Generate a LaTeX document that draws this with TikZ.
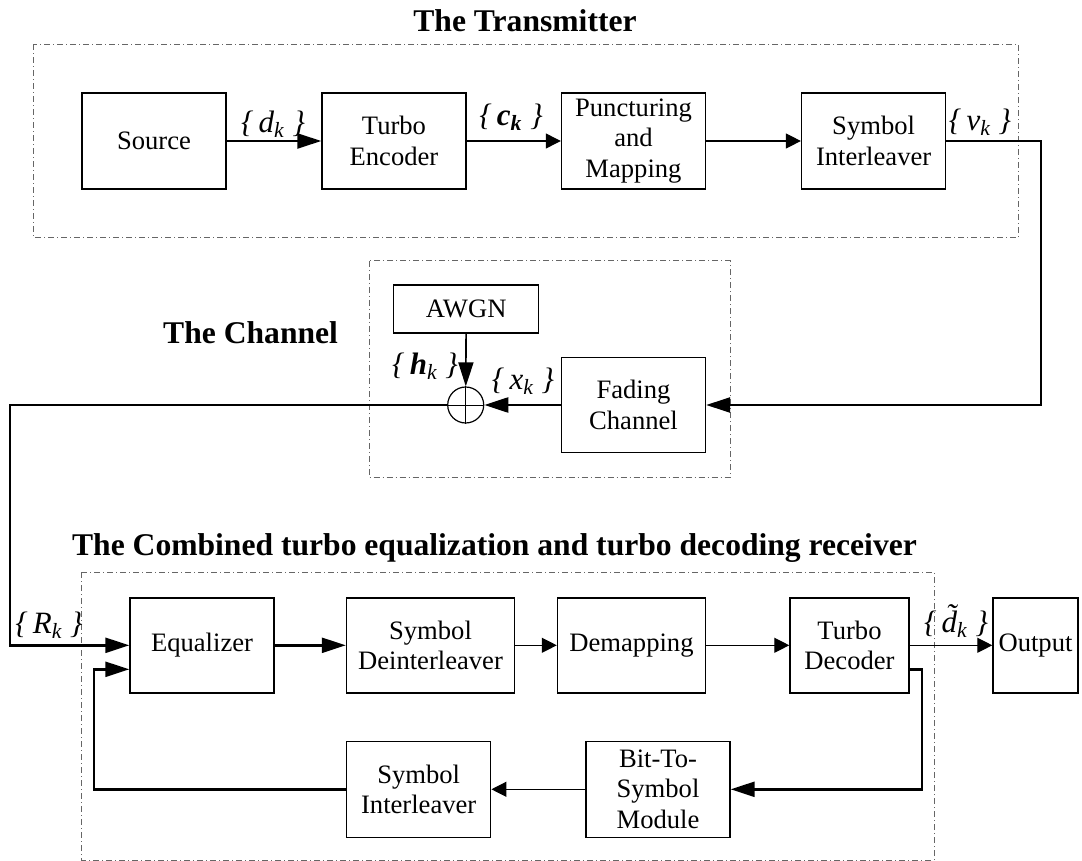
\documentclass[tikz,border=0pt]{standalone}
\usepackage{fontspec}
\setmainfont{Liberation Serif}
\usetikzlibrary{arrows.meta}
\newcommand{\sq}[1]{\textit{\{\,#1\ \}}}
\newcommand{\sbk}{\textsubscript{\textit{k}}}

\begin{document}
\begin{tikzpicture}[
    x=0.5pt,
    y=-0.5pt,
    blk/.style={draw,line width=0.7pt,align=center,inner sep=0pt,
        minimum width=72pt,minimum height=48pt,font=\fontsize{13.3}{15.4}\selectfont},
    grp/.style={draw=black!60,line width=0.5pt,
        dash pattern=on 3pt off 1.5pt on 0.5pt off 1.5pt},
    ttl/.style={font=\fontsize{15.8}{18}\selectfont\bfseries},
    lbl/.style={inner sep=0pt,font=\fontsize{15.5}{17}\selectfont},
    thk/.style={line width=1.2pt,-{Triangle[length=12pt,width=7.5pt]}},
    thn/.style={line width=0.6pt,-{Triangle[length=7.5pt,width=7.5pt]}},
    mid/.style={line width=0.8pt,-{Triangle[length=12pt,width=7.5pt]}}
]
    \useasboundingbox (0,0) rectangle (1082,861);

    % Transmitter
    \draw[grp] (33.4,44.3) rectangle (1018.7,237.3);
    \node[ttl] (ttx) at (525,21) {The Transmitter};
    \node[blk] (src)  at (154,141)   {Source};
    \node[blk] (tenc) at (394,141)   {Turbo\\Encoder};
    \node[blk] (punc) at (633.5,141) {Puncturing\\and\\Mapping};
    \node[blk] (sint) at (873.6,141) {Symbol\\Interleaver};
    \node[lbl] (ldk) at (273,124) {\sq{d\sbk}};
    \node[lbl] (lck) at (511,117) {\sq{\textbf{c\textsubscript{k}}}};
    \node[lbl] (lvk) at (980,122) {\sq{v\sbk}};

    % Channel
    \draw[grp] (369.2,261) rectangle (730,477.7);
    \node[ttl] (tch) at (250.6,332.5) {The Channel};
    \node[blk,minimum width=72.5pt,minimum height=24pt] (awgn) at (466.2,309) {AWGN};
    \node[blk,minimum height=47.5pt] (fade) at (633.5,405) {Fading\\Channel};
    \node[draw,circle,line width=0.6pt,minimum size=18pt,inner sep=0pt] (sum) at (465.7,405) {};
    \draw[line width=0.4pt] (sum.north) -- (sum.south);
    \draw[line width=0.4pt] (sum.west) -- (sum.east);
    \node[lbl] (lhk) at (425,366) {\sq{\textbf{h}\sbk}};
    \node[lbl] (lxk) at (523,381) {\sq{x\sbk}};

    % Receiver
    \draw[grp] (81.7,572.3) rectangle (934,860);
    \node[ttl] (trx) at (494.5,548)
        {The Combined turbo equalization and turbo decoding receiver};
    \node[blk,minimum height=47.5pt] (eq)    at (202,645.3)   {Equalizer};
    \node[blk,minimum width=84pt,minimum height=47.5pt] (sdei)  at (430.5,645.3) {Symbol\\Deinterleaver};
    \node[blk,minimum width=74pt,minimum height=47.5pt] (demap) at (631.5,645.3) {Demapping};
    \node[blk,minimum width=59.5pt,minimum height=47.5pt] (tdec) at (849.5,645.3) {Turbo\\Decoder};
    \node[blk,minimum width=42.5pt,minimum height=47.5pt] (outp) at (1035.5,645.3) {Output};
    \node[blk] (sint2) at (418.7,789.3) {Symbol\\Interleaver};
    \node[blk] (bts)   at (658,789.3)   {Bit-To-\\Symbol\\Module};
    \node[lbl] (lrk) at (49,625)  {\sq{R\sbk}};
    \node[lbl] (ldt) at (956,621) {\sq{\~{d}\sbk}};

    % Bends
    \coordinate (tr)  at (1041,141);
    \coordinate (lc)  at (10,405);
    \coordinate (fbr) at (922,789.3);
    \coordinate (fbl) at (94,789.3);

    % Connectors
    \draw[thk] (src) -- (tenc);
    \draw[thn] (tenc) -- (punc);
    \draw[thn] (punc) -- (sint);
    \draw[thk] (sint) -- (tr) |- (fade);
    \draw[thk] (fade) -- (sum);
    \draw[mid] (awgn) -- (sum);
    \draw[thk] (sum) -- (lc) |- (eq);
    \draw[thk] (eq) -- (sdei);
    \draw[thn] (sdei) -- (demap);
    \draw[thn] (demap) -- (tdec);
    \draw[thn] (tdec) -- (outp);
    \draw[thk] ([yshift=-12pt]tdec.east) -| (fbr) -- (bts);
    \draw[thn] (bts) -- (sint2);
    \draw[thk] (sint2) -- (fbl) |- ([yshift=-12pt]eq.west);
\end{tikzpicture}
\end{document}
